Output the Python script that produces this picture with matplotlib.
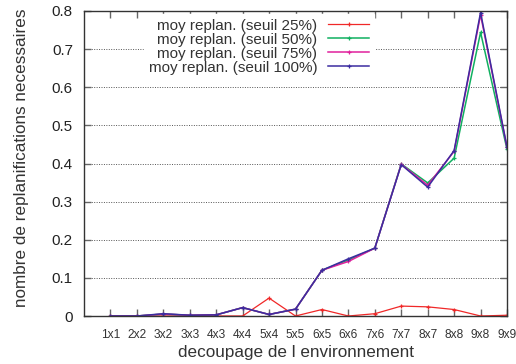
import matplotlib
matplotlib.use('Agg')
import matplotlib.pyplot as plt

plt.rcParams['font.family'] = ['Liberation Sans', 'DejaVu Sans']

decoupages = ['1x1', '2x2', '3x2', '3x3', '4x3', '4x4', '5x4', '5x5',
              '6x5', '6x6', '7x6', '7x7', '8x7', '8x8', '9x8', '9x9']

seuil_25 = [0, 0, 0, 0, 0, 0, 0.047, 0, 0.017, 0, 0.006, 0.026, 0.024, 0.017, 0, 0.002]
seuil_50 = [0, 0, 0.005, 0.002, 0.003, 0.022, 0.004, 0.018, 0.12, 0.147, 0.178, 0.399,
            0.349, 0.414, 0.744, 0.437]
seuil_75 = [0, 0, 0.005, 0.002, 0.003, 0.022, 0.004, 0.018, 0.12, 0.143, 0.178, 0.398,
            0.343, 0.432, 0.79, 0.442]
seuil_100 = [0, 0, 0.006, 0.002, 0.003, 0.022, 0.004, 0.018, 0.12, 0.15, 0.178, 0.397,
             0.338, 0.434, 0.796, 0.443]

series = [
    ('moy replan. (seuil 25%)', seuil_25, '#f02828', 0.9),
    ('moy replan. (seuil 50%)', seuil_50, '#10b060', 1.1),
    ('moy replan. (seuil 75%)', seuil_75, '#e0209c', 1.1),
    ('moy replan. (seuil 100%)', seuil_100, '#3c2ca0', 1.1),
]

fig = plt.figure(figsize=(5.16, 3.64), dpi=100)
ax = fig.add_axes([84 / 516, 48 / 364, 423 / 516, 305 / 364])

x = list(range(len(decoupages)))
for label, vals, col, lw in series:
    ax.plot(x, vals, color=col, lw=lw, marker='+', markersize=3.5,
            markeredgewidth=0.9, label=label)

ax.set_xlim(-1, 15)
ax.set_ylim(0, 0.8)
yt = [0, 0.1, 0.2, 0.3, 0.4, 0.5, 0.6, 0.7, 0.8]
ax.set_yticks(yt)
ax.set_yticklabels(['0'] + ['%.1f' % v for v in yt[1:]], fontsize=11, color='#222222')
ax.set_xticks(x)
ax.set_xticklabels(decoupages, fontsize=8.6, color='#333333')

ax.yaxis.grid(True, linestyle=(0, (1, 1.5)), color='#555555', lw=0.7)
ax.set_axisbelow(True)
ax.tick_params(axis='both', direction='in', top=True, right=True, length=5,
               color='#666666', width=1)
ax.tick_params(axis='x', pad=9)
ax.tick_params(axis='y', pad=8)
for s in ax.spines.values():
    s.set_color('#333333')
    s.set_linewidth(1)

ax.set_xlabel('decoupage de l environnement', fontsize=12.3, color='#333333', labelpad=3)
ax.set_ylabel('nombre de replanifications necessaires', fontsize=12.3, color='#333333',
              va='center')
ax.yaxis.set_label_coords(-0.147, 0.52)

leg = ax.legend(loc='upper left', bbox_to_anchor=(0.135, 1.0), markerfirst=False,
                frameon=True, fancybox=False, fontsize=11, handlelength=2.7,
                borderpad=0.3, labelspacing=0.0, handletextpad=0.7,
                borderaxespad=0.2)
leg.get_frame().set_edgecolor('white')
leg.get_frame().set_facecolor('white')
leg.get_frame().set_alpha(1)
for t in leg.get_texts():
    t.set_color('#333333')
    t.set_ha('right')
leg._legend_box.align = 'right'

fig.savefig('out.png', dpi=100)
